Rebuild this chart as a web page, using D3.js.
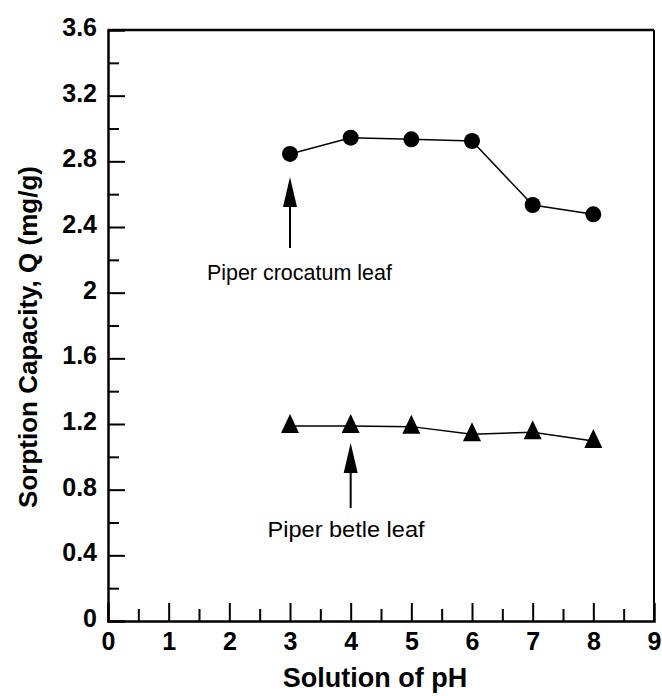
<!DOCTYPE html>
<html>
<head>
<meta charset="utf-8">
<script src="https://cdn.jsdelivr.net/npm/d3@7"></script>
<style>
  html, body { margin: 0; padding: 0; background: #fff; }
  svg { display: block; }
  text { font-family: "Liberation Sans", Arial, Helvetica, sans-serif; fill: #000; }
</style>
</head>
<body>
<svg id="chart" width="662" height="696"></svg>
<script>
// ---- data ----
const pH = [3, 4, 5, 6, 7, 8];
const crocatum = [2.845, 2.944, 2.934, 2.924, 2.534, 2.477];
const betle = [1.188, 1.188, 1.184, 1.137, 1.150, 1.096];
const xTicks = [0, 1, 2, 3, 4, 5, 6, 7, 8, 9];
const xMinor = [0.5, 1.5, 2.5, 3.5, 4.5, 5.5, 6.5, 7.5, 8.5];
const yTicks = [0, 0.4, 0.8, 1.2, 1.6, 2, 2.4, 2.8, 3.2, 3.6];
const yMinor = [0.2, 0.6, 1.0, 1.4, 1.8, 2.2, 2.6, 3.0, 3.4];
const labels = [
  { text: "Piper crocatum leaf", x: 3, tip: 2.705, tail: 2.272, lx: 1.63, ly: 2.08, len: 185 },
  { text: "Piper betle leaf", x: 4, tip: 1.084, tail: 0.688, lx: 2.63, ly: 0.51, len: 157 }
];
const xTitle = "Solution of pH";
const yTitle = "Sorption Capacity, Q (mg/g)";

// ---- layout ----
const L = 108, R = 654, T = 30, B = 621;
const svg = d3.select("#chart");
const x = d3.scaleLinear().domain([0, 9]).range([L, R]);
const y = d3.scaleLinear().domain([0, 3.6]).range([B, T]);

// frame top & right
svg.append("line").attr("x1", L).attr("x2", R).attr("y1", T).attr("y2", T)
  .attr("stroke", "#000").attr("stroke-width", 2.5);
svg.append("line").attr("x1", R).attr("x2", R).attr("y1", T).attr("y2", B)
  .attr("stroke", "#000").attr("stroke-width", 2);

// x axis
const gx = svg.append("g").attr("transform", `translate(0,${B})`);
gx.call(d3.axisBottom(x).tickValues(xTicks).tickSize(-18).tickPadding(11).tickFormat(d3.format("d")));
const gxm = svg.append("g").attr("transform", `translate(0,${B})`);
gxm.call(d3.axisBottom(x).tickValues(xMinor).tickSize(-12).tickFormat(""));
gxm.select(".domain").remove();

// y axis
const gy = svg.append("g").attr("transform", `translate(${L},0)`);
gy.call(d3.axisLeft(y).tickValues(yTicks).tickSize(-17).tickPadding(11).tickFormat(d => d3.format("")(+d.toFixed(1))));
const gym = svg.append("g").attr("transform", `translate(${L},0)`);
gym.call(d3.axisLeft(y).tickValues(yMinor).tickSize(-11).tickFormat(""));
gym.select(".domain").remove();

svg.selectAll(".domain").attr("stroke", "#000").attr("stroke-width", 2.5);
svg.selectAll(".tick line").attr("stroke", "#000").attr("stroke-width", 2);
svg.selectAll(".tick text")
  .style("font-family", '"Liberation Sans", Arial, sans-serif')
  .style("font-weight", "bold").style("font-size", "25px").attr("fill", "#000");
gy.selectAll(".tick text").attr("dy", "0.22em");
// hide duplicate ticks at axis ends
gx.selectAll(".tick line").filter(d => d === 0 || d === 9).remove();
gy.selectAll(".tick line").filter(d => d === 0 || d === 3.6).remove();

// lines
const line = d3.line().x(d => x(d[0])).y(d => y(d[1]));
svg.append("path").datum(pH.map((p, i) => [p, crocatum[i]]))
  .attr("d", line).attr("fill", "none").attr("stroke", "#000").attr("stroke-width", 1.5);
svg.append("path").datum(pH.map((p, i) => [p, betle[i]]))
  .attr("d", line).attr("fill", "none").attr("stroke", "#000").attr("stroke-width", 1.5);

// markers
svg.selectAll("circle.m").data(pH.map((p, i) => [p, crocatum[i]])).enter()
  .append("circle").attr("class", "m")
  .attr("cx", d => x(d[0])).attr("cy", d => y(d[1])).attr("r", 8).attr("fill", "#000");
svg.selectAll("path.tri").data(pH.map((p, i) => [p, betle[i]])).enter()
  .append("path").attr("class", "tri")
  .attr("transform", d => `translate(${x(d[0])},${y(d[1])})`)
  .attr("d", "M0,-12 L9,7 L-9,7 Z").attr("fill", "#000");

// annotations
labels.forEach(a => {
  const ax = x(a.x), yt = y(a.tip), yb = y(a.tail);
  svg.append("line").attr("x1", ax).attr("x2", ax).attr("y1", yt + 20).attr("y2", yb)
    .attr("stroke", "#000").attr("stroke-width", 2);
  svg.append("path").attr("d", `M${ax},${yt} L${ax + 7},${yt + 30} L${ax - 7},${yt + 30} Z`).attr("fill", "#000");
  svg.append("text").attr("x", x(a.lx)).attr("y", y(a.ly))
    .attr("textLength", a.len).attr("lengthAdjust", "spacingAndGlyphs")
    .style("font-size", "22px").text(a.text);
});

// axis titles
svg.append("text").attr("x", 375).attr("y", 687).attr("text-anchor", "middle")
  .style("font-weight", "bold").style("font-size", "27px").text(xTitle);
svg.append("text").attr("transform", "translate(37,337) rotate(-90)").attr("text-anchor", "middle")
  .style("font-weight", "bold").style("font-size", "26px").text(yTitle);
</script>
</body>
</html>
